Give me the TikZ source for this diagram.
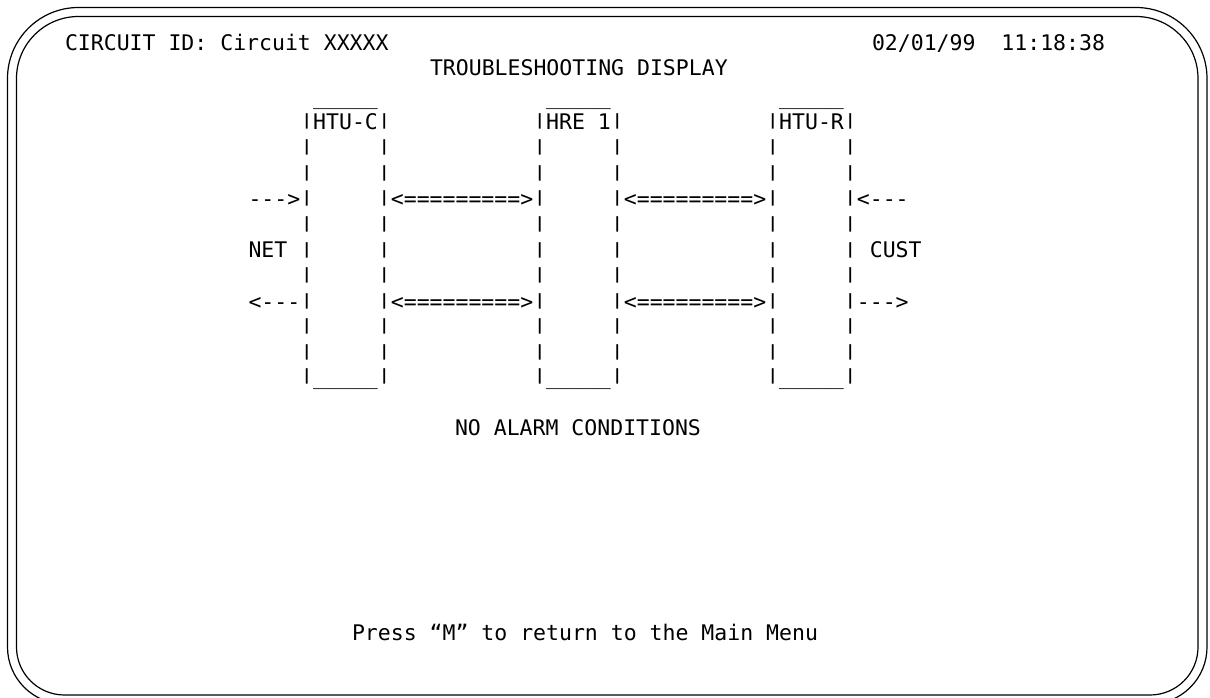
\documentclass[tikz,border=0pt]{standalone}
\usepackage{fontspec}
\setmonofont{DejaVu Sans Mono}
\newcommand\scr{\ttfamily\fontsize{21.5}{25.6}\selectfont}
\newcommand\vb{\raisebox{3.85pt}{\scalebox{1}[0.72]{|}}}
\tikzset{
  txt/.style={anchor=base west, inner sep=0pt, outer sep=0pt, font=\scr},
  frame/.style={draw=black, line width=1.2pt}
}
\begin{document}
\begin{tikzpicture}[x=1pt,y=-1pt]
\useasboundingbox (0,0) rectangle (1210,698);
% double rounded frame
\draw[frame] (16.5,78.5) arc[start angle=180,end angle=270,radius=62]
  -- (1136,16.5) arc[start angle=270,end angle=360,radius=62]
  -- (1198,647) arc[start angle=0,end angle=90,radius=48]
  -- (64.5,695) arc[start angle=90,end angle=180,radius=48] -- cycle;
\draw[frame] (7.5,78.5) arc[start angle=180,end angle=270,radius=71]
  -- (1136,7.5) arc[start angle=270,end angle=360,radius=71]
  -- (1207,647) arc[start angle=0,end angle=90,radius=57]
  -- (64.5,704) arc[start angle=90,end angle=180,radius=57] -- cycle;
% header
\node[txt] (cid) at (65,50.9) {CIRCUIT~ID:~Circuit~XXXXX};
\node[txt] (date) at (872,50.9) {02/01/99~~11:18:38};
\node[txt] (title) at (430,76) {TROUBLESHOOTING~DISPLAY};
% ascii diagram (rows every 25.6)
\def\xo{248.5}
\node[txt] (r0) at (\xo,104.2) {~~~~~\_\_\_\_\_~~~~~~~~~~~~~\_\_\_\_\_~~~~~~~~~~~~~\_\_\_\_\_};
\node[txt] (r1) at (\xo,129.85) {~~~~\vb HTU-C\vb~~~~~~~~~~~\vb HRE~1\vb~~~~~~~~~~~\vb HTU-R\vb};
\node[txt] (r2) at (\xo,155.45) {~~~~\vb~~~~~\vb~~~~~~~~~~~\vb~~~~~\vb~~~~~~~~~~~\vb~~~~~\vb};
\node[txt] (r3) at (\xo,181.05) {~~~~\vb~~~~~\vb~~~~~~~~~~~\vb~~~~~\vb~~~~~~~~~~~\vb~~~~~\vb};
\node[txt] (r4) at (\xo,206.65) {-{}-{}->\vb~~~~~\vb<=========>\vb~~~~~\vb<=========>\vb~~~~~\vb<-{}-{}-};
\node[txt] (r5) at (\xo,232.25) {~~~~\vb~~~~~\vb~~~~~~~~~~~\vb~~~~~\vb~~~~~~~~~~~\vb~~~~~\vb};
\node[txt] (r6) at (\xo,257.85) {NET~\vb~~~~~\vb~~~~~~~~~~~\vb~~~~~\vb~~~~~~~~~~~\vb~~~~~\vb~CUST};
\node[txt] (r7) at (\xo,283.45) {~~~~\vb~~~~~\vb~~~~~~~~~~~\vb~~~~~\vb~~~~~~~~~~~\vb~~~~~\vb};
\node[txt] (r8) at (\xo,309.05) {<-{}-{}-\vb~~~~~\vb<=========>\vb~~~~~\vb<=========>\vb~~~~~\vb-{}-{}->};
\node[txt] (r9) at (\xo,334.65) {~~~~\vb~~~~~\vb~~~~~~~~~~~\vb~~~~~\vb~~~~~~~~~~~\vb~~~~~\vb};
\node[txt] (r10) at (\xo,360.25) {~~~~\vb~~~~~\vb~~~~~~~~~~~\vb~~~~~\vb~~~~~~~~~~~\vb~~~~~\vb};
\node[txt] (r11) at (\xo,384.5) {~~~~\vb\_\_\_\_\_\vb~~~~~~~~~~~\vb\_\_\_\_\_\vb~~~~~~~~~~~\vb\_\_\_\_\_\vb};
% status and footer
\node[txt] (alarm) at (455,435) {NO~ALARM~CONDITIONS};
\node[txt] (press) at (352,640) {Press~“M”~to~return~to~the~Main~Menu};
\end{tikzpicture}
\end{document}
